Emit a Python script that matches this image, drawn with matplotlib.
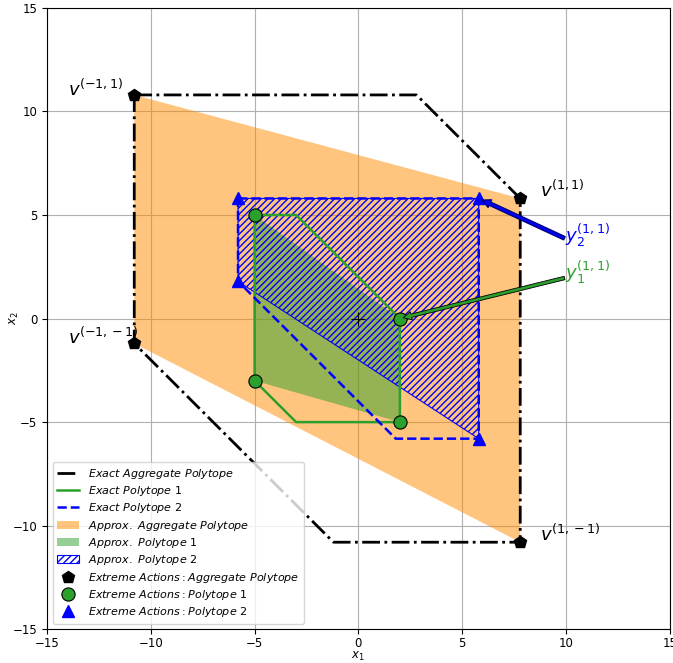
import matplotlib
matplotlib.use("Agg")
import matplotlib.pyplot as plt
from matplotlib.patches import Polygon

# Politopos exactos
agg_exact_x = [-10.8, 2.8, 7.8, 7.8, -1.2, -10.8, -10.8]
agg_exact_y = [10.8, 10.8, 5.8, -10.8, -10.8, -1.2, 10.8]
p1_exact_x = [-5, -3, 2, 2, -3, -5, -5]
p1_exact_y = [5, 5, 0, -5, -5, -3, 5]
p2_exact_x = [-5.8, 5.8, 5.8, 1.8, -5.8, -5.8]
p2_exact_y = [5.8, 5.8, -5.8, -5.8, 1.8, 5.8]

# Acciones extremas (vertices de los politopos aproximados)
agg_ext_x = [-10.8, 7.8, 7.8, -10.8]
agg_ext_y = [10.8, 5.8, -10.8, -1.2]
p1_ext_x = [-5, 2, 2, -5]
p1_ext_y = [5, 0, -5, -3]
p2_ext_x = [-5.8, 5.8, 5.8, -5.8]
p2_ext_y = [5.8, 5.8, -5.8, 1.8]

agg_labels = [r"$v^{(-1,1)}$", r"$v^{(1,1)}$", r"$v^{(1,-1)}$", r"$v^{(-1,-1)}$"]
agg_label_pos = [(-14, 11.1), (8.75, 6.2), (8.75, -10.4), (-14, -0.9)]

fig, ax = plt.subplots(figsize=(6.73, 6.63), dpi=100)
fig.subplots_adjust(left=0.07, right=0.995, bottom=0.051, top=0.988)

# Rellenos aproximados
ax.add_patch(Polygon(list(zip(agg_ext_x, agg_ext_y)), closed=True, facecolor="darkorange",
                     alpha=0.5, edgecolor="none", label=r"$Approx.\ Aggregate\ Polytope$"))
ax.add_patch(Polygon(list(zip(p1_ext_x, p1_ext_y)), closed=True, facecolor="tab:green",
                     alpha=0.5, edgecolor="none", label=r"$Approx.\ Polytope\ 1$"))
ax.add_patch(Polygon(list(zip(p2_ext_x, p2_ext_y)), closed=True, fill=False, hatch="/////",
                     edgecolor="blue", linewidth=0.8, label=r"$Approx.\ Polytope\ 2$"))

# Lineas exactas
ax.plot(agg_exact_x, agg_exact_y, color="black", linestyle="-.", linewidth=2,
        label=r"$Exact\ Aggregate\ Polytope$")
ax.plot(p1_exact_x, p1_exact_y, color="tab:green", linestyle="-", linewidth=1.8,
        label=r"$Exact\ Polytope\ 1$")
ax.plot(p2_exact_x, p2_exact_y, color="blue", linestyle="--", linewidth=1.8,
        label=r"$Exact\ Polytope\ 2$")

# Marcadores
ax.plot(agg_ext_x, agg_ext_y, linestyle="none", marker="p", markersize=9, color="black",
        label=r"$Extreme\ Actions: Aggregate\ Polytope$")
ax.plot(p1_ext_x, p1_ext_y, linestyle="none", marker="o", markersize=9.5,
        markerfacecolor="tab:green", markeredgecolor="black", markeredgewidth=0.8,
        label=r"$Extreme\ Actions: Polytope\ 1$")
ax.plot(p2_ext_x, p2_ext_y, linestyle="none", marker="^", markersize=9, color="blue",
        label=r"$Extreme\ Actions: Polytope\ 2$")
ax.plot([0], [0], linestyle="none", marker="+", markersize=10, color="black", markeredgewidth=0.8)

for txt, (tx, ty) in zip(agg_labels, agg_label_pos):
    ax.text(tx, ty, txt, fontsize=13, ha="left", va="center")

# Flechas hacia y1, y2
ax.annotate("", xy=(p2_ext_x[1], p2_ext_y[1]), xytext=(10.1, 3.8),
            arrowprops=dict(facecolor="blue", edgecolor="navy", width=2.5, headwidth=6,
                            headlength=6, shrink=0.04))
ax.annotate("", xy=(p1_ext_x[1], p1_ext_y[1]), xytext=(10.1, 2.0),
            arrowprops=dict(facecolor="tab:green", edgecolor="black", width=2.5, headwidth=6,
                            headlength=6, shrink=0.02, linewidth=0.6))
ax.text(9.95, 4.0, r"$y_2^{(1,1)}$", fontsize=13, color="blue", ha="left", va="center")
ax.text(9.95, 2.2, r"$y_1^{(1,1)}$", fontsize=13, color="tab:green", ha="left", va="center")

ax.set_xlim(-15, 15)
ax.set_ylim(-15, 15)
ax.tick_params(labelsize=8.5)
ax.tick_params(axis="x", pad=2)
ax.set_xlabel(r"$x_1$", fontsize=8.5, va="top")
ax.set_ylabel(r"$x_2$", fontsize=8.5, va="center")
ax.xaxis.set_label_coords(0.5, -0.034)
ax.yaxis.set_label_coords(-0.053, 0.5)
ax.grid(True)
ax.set_axisbelow(True)

handles, labels = ax.get_legend_handles_labels()
order = [3, 4, 5, 0, 1, 2, 6, 7, 8]
ax.legend([handles[i] for i in order], [labels[i] for i in order], loc="lower left",
          fontsize=8, labelspacing=0.3)

fig.savefig("out.png", dpi=100)
